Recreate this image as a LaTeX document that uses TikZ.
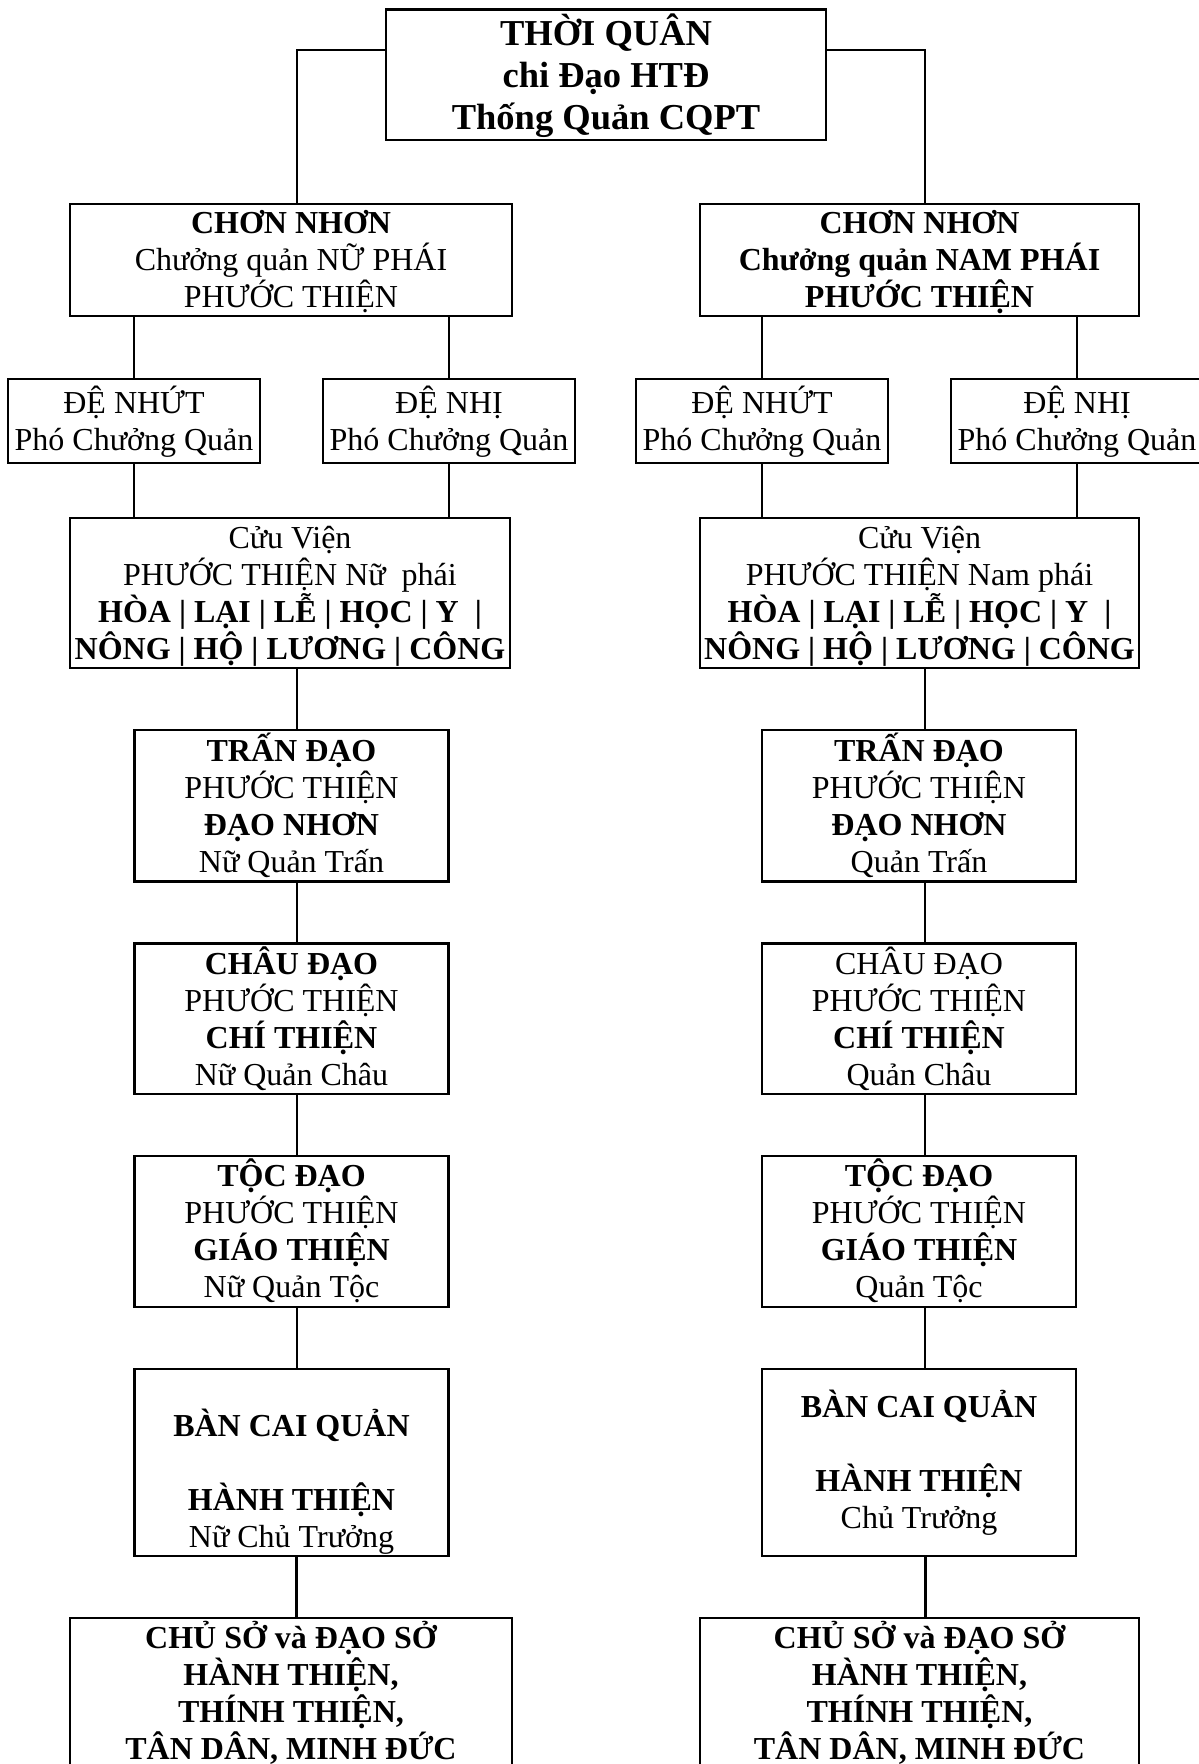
\documentclass[tikz,border=0pt]{standalone}
\usepackage{fontspec}
\setmainfont{Liberation Serif}
\newcommand\txtsz{\fontsize{16}{18.5}\selectfont\lineskiplimit=-100pt\relax}
\newcommand\topsz{\fontsize{18.25}{21}\selectfont\bfseries\lineskiplimit=-100pt\relax}
\newcommand\stA{\rule[-3.85pt]{0pt}{18.5pt}}
\newcommand\stB{\rule[-4.05pt]{0pt}{21pt}}
\begin{document}
\begin{tikzpicture}[x=0.5pt,y=-0.5pt,
  box/.style={draw, line width=1.25pt, inner sep=0pt, align=center, font=\txtsz},
  conn/.style={line width=1.15pt}]
\path[use as bounding box, fill=white] (0,0) rectangle (1198,1764);
% top
\node[box, font=\topsz, minimum width=220pt, minimum height=65.25pt] (top) at (606,74.75)
  {\stB THỜI QUÂN\\chi Đạo HTĐ\\Thống Quản CQPT\stB};
% level 1
\node[box, minimum width=221pt, minimum height=56pt] (chonL) at (291,260)
  {\stA\textbf{CHƠN NHƠN}\\Chưởng quản NỮ PHÁI\\PHƯỚC THIỆN\stA};
\node[box, font=\txtsz\bfseries, minimum width=219.5pt, minimum height=56pt] (chonR) at (919.5,260)
  {\stA CHƠN NHƠN\\Chưởng quản NAM PHÁI\\PHƯỚC THIỆN\stA};
% level 2
\node[box, minimum width=126pt, minimum height=42pt] (deL1) at (134,421) {\stA ĐỆ NHỨT\\Phó Chưởng Quản\stA};
\node[box, minimum width=126pt, minimum height=42pt] (deL2) at (449,421) {\stA ĐỆ NHỊ\\Phó Chưởng Quản\stA};
\node[box, minimum width=126pt, minimum height=42pt] (deR1) at (762,421) {\stA ĐỆ NHỨT\\Phó Chưởng Quản\stA};
\node[box, minimum width=126pt, minimum height=42pt] (deR2) at (1077,421) {\stA ĐỆ NHỊ\\Phó Chưởng Quản\stA};
% level 3
\node[box, minimum width=220pt, minimum height=75pt] (cvL) at (290,593)
  {\stA Cửu Viện\\PHƯỚC THIỆN Nữ\ \ phái\\\textbf{HÒA | LẠI | LỄ | HỌC | Y\ \ |}\\\textbf{NÔNG | HỘ | LƯƠNG | CÔNG}\stA};
\node[box, minimum width=219.5pt, minimum height=75pt] (cvR) at (919.5,593)
  {\stA Cửu Viện\\PHƯỚC THIỆN Nam phái\\\textbf{HÒA | LẠI | LỄ | HỌC | Y\ \ |}\\\textbf{NÔNG | HỘ | LƯƠNG | CÔNG}\stA};
% level 4
\node[box, minimum width=157pt, minimum height=75.75pt] (tranL) at (291.5,805.75)
  {\stA\textbf{TRẤN ĐẠO}\\PHƯỚC THIỆN\\\textbf{ĐẠO NHƠN}\\Nữ Quản Trấn\stA};
\node[box, minimum width=157pt, minimum height=75.75pt] (tranR) at (919,805.75)
  {\stA\textbf{TRẤN ĐẠO}\\PHƯỚC THIỆN\\\textbf{ĐẠO NHƠN}\\Quản Trấn\stA};
% level 5
\node[box, minimum width=157pt, minimum height=75.25pt] (chauL) at (291.5,1018.75)
  {\stA\textbf{CHÂU ĐẠO}\\PHƯỚC THIỆN\\\textbf{CHÍ THIỆN}\\Nữ Quản Châu\stA};
\node[box, minimum width=157pt, minimum height=75.25pt] (chauR) at (919,1018.75)
  {\stA CHÂU ĐẠO\\PHƯỚC THIỆN\\\textbf{CHÍ THIỆN}\\Quản Châu\stA};
% level 6
\node[box, minimum width=157pt, minimum height=75.5pt] (tocL) at (291.5,1231.5)
  {\stA\textbf{TỘC ĐẠO}\\PHƯỚC THIỆN\\\textbf{GIÁO THIỆN}\\Nữ Quản Tộc\stA};
\node[box, minimum width=157pt, minimum height=75.5pt] (tocR) at (919,1231.5)
  {\stA\textbf{TỘC ĐẠO}\\PHƯỚC THIỆN\\\textbf{GIÁO THIỆN}\\Quản Tộc\stA};
% level 7
\node[box, minimum width=157pt, minimum height=93.5pt] (banL) at (291.5,1462.5)
  {\stA\\\textbf{BÀN CAI QUẢN}\\\stA\\\textbf{HÀNH THIỆN}\\Nữ Chủ Trưởng\stA};
\node[box, minimum width=157pt, minimum height=93.5pt] (banR) at (919,1462.5)
  {\stA\textbf{BÀN CAI QUẢN}\\\stA\\\textbf{HÀNH THIỆN}\\Chủ Trưởng\stA};
% level 8
\node[box, font=\txtsz\bfseries, minimum width=221pt, minimum height=75.5pt] (chuL) at (291,1693.5)
  {\stA CHỦ SỞ và ĐẠO SỞ\\HÀNH THIỆN,\\THÍNH THIỆN,\\TÂN DÂN, MINH ĐỨC\stA};
\node[box, font=\txtsz\bfseries, minimum width=219.5pt, minimum height=75.5pt] (chuR) at (919.5,1693.5)
  {\stA CHỦ SỞ và ĐẠO SỞ\\HÀNH THIỆN,\\THÍNH THIỆN,\\TÂN DÂN, MINH ĐỨC\stA};
% connectors
\draw[conn] ([yshift=12.4pt]top.west) -| ([xshift=3pt]chonL.north);
\draw[conn] ([yshift=12.4pt]top.east) -| ([xshift=2.75pt]chonR.north);
\foreach \a/\b in {chonL/deL1, chonL/deL2, chonR/deR1, chonR/deR2}
  \draw[conn] (\b.north |- \a.south) -- (\b.north);
\foreach \a/\b in {deL1/cvL, deL2/cvL, deR1/cvR, deR2/cvR}
  \draw[conn] (\a.south) -- (\a.south |- \b.north);
\foreach \a/\b in {cvL/tranL, tranL/chauL, chauL/tocL, tocL/banL, banL/chuL}
  \draw[conn] ([xshift=2.75pt]\b.north |- \a.south) -- ([xshift=2.75pt]\b.north);
\foreach \a/\b in {cvR/tranR, tranR/chauR, chauR/tocR, tocR/banR, banR/chuR}
  \draw[conn] ([xshift=3pt]\b.north |- \a.south) -- ([xshift=3pt]\b.north);
\end{tikzpicture}
\end{document}
